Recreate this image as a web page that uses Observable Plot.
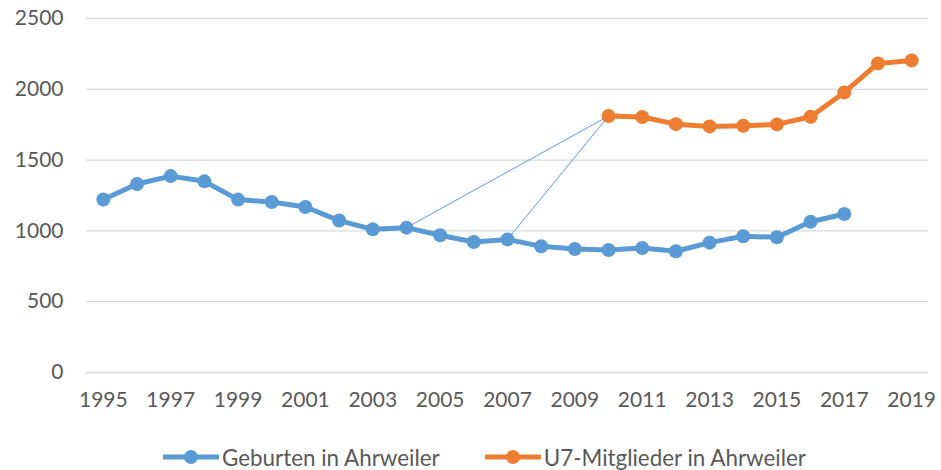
<!DOCTYPE html>
<html><head><meta charset="utf-8">
<script src="https://cdn.jsdelivr.net/npm/d3@7"></script>
<script src="https://cdn.jsdelivr.net/npm/@observablehq/plot@0.6"></script>
<style>
html,body{margin:0;padding:0;background:#fff;}
body{width:941px;height:470px;position:relative;overflow:hidden;font-family:Lato,"Open Sans",sans-serif;}
#legend{position:absolute;left:163px;top:445px;height:24px;display:flex;align-items:center;font-size:22.4px;color:#595959;}
.item{display:flex;align-items:center;}
.item svg{margin-right:3px;}
</style></head><body>
<div id="chart"></div>
<div id="legend"></div>
<script>
// Data
const birthYears = [1995,1996,1997,1998,1999,2000,2001,2002,2003,2004,2005,2006,2007,2008,2009,2010,2011,2012,2013,2014,2015,2016,2017];
const births = [1222,1331,1387,1350,1221,1204,1169,1073,1011,1023,969,922,940,891,872,865,879,856,917,962,955,1065,1119];
const u7Years = [2010,2011,2012,2013,2014,2015,2016,2017,2018,2019];
const u7Members = [1811,1804,1754,1738,1743,1752,1806,1978,2183,2204];
const connectorFromYears = [2004, 2007];
const connectorToYear = 2010;
const xTicks = [1995,1997,1999,2001,2003,2005,2007,2009,2011,2013,2015,2017,2019];
const yTicks = [0,500,1000,1500,2000,2500];
const seriesNames = ["Geburten in Ahrweiler", "U7-Mitglieder in Ahrweiler"];
const seriesColors = ["#5b9bd5", "#ed7d31"];

const birthData = birthYears.map((y, i) => ({year: y, value: births[i]}));
const u7Data = u7Years.map((y, i) => ({year: y, value: u7Members[i]}));
const target = u7Data.find(d => d.year === connectorToYear);
const connectors = connectorFromYears.map(y => ({
  x1: y, y1: birthData.find(d => d.year === y).value,
  x2: target.year, y2: target.value
}));

const chart = Plot.plot({
  width: 941,
  height: 420,
  marginLeft: 86,
  marginRight: 13,
  marginTop: 18,
  marginBottom: 48,
  style: {fontFamily: "Lato, 'Open Sans', sans-serif", fontSize: "21px", color: "#595959", background: "#fff"},
  x: {domain: [1994.5, 2019.5], ticks: xTicks, tickFormat: d => String(d), tickSize: 0, tickPadding: 20, label: null},
  y: {domain: [0, 2500], ticks: yTicks, tickFormat: d => String(d), tickSize: 0, tickPadding: 23, label: null},
  marks: [
    Plot.ruleY(yTicks, {stroke: "#d9d9d9", strokeWidth: 1.3}),
    Plot.link(connectors, {x1: "x1", y1: "y1", x2: "x2", y2: "y2", stroke: seriesColors[0], strokeWidth: 1}),
    Plot.line(birthData, {x: "year", y: "value", stroke: seriesColors[0], strokeWidth: 5, strokeLinejoin: "round"}),
    Plot.dot(birthData, {x: "year", y: "value", fill: seriesColors[0], r: 7}),
    Plot.line(u7Data, {x: "year", y: "value", stroke: seriesColors[1], strokeWidth: 5, strokeLinejoin: "round"}),
    Plot.dot(u7Data, {x: "year", y: "value", fill: seriesColors[1], r: 7})
  ]
});
document.getElementById("chart").appendChild(chart);

const legend = document.getElementById("legend");
seriesNames.forEach((name, i) => {
  const item = document.createElement("div");
  item.className = "item";
  if (i > 0) item.style.marginLeft = "45px";
  item.innerHTML = `<svg width="56" height="20"><line x1="0" y1="10" x2="56" y2="10" stroke="${seriesColors[i]}" stroke-width="5"/><circle cx="28" cy="10" r="7" fill="${seriesColors[i]}"/></svg><span>${name}</span>`;
  legend.appendChild(item);
});
</script>
</body></html>
